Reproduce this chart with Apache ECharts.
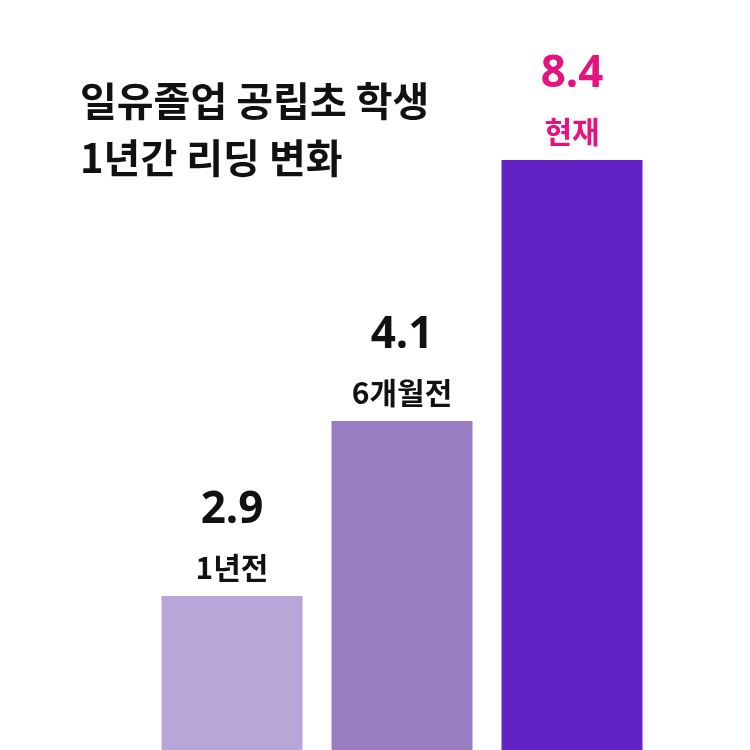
<!DOCTYPE html>
<html>
<head>
<meta charset="utf-8">
<script src="https://cdn.jsdelivr.net/npm/echarts@6/dist/echarts.min.js"></script>
<style>
  html, body { margin: 0; padding: 0; background: #fff; }
  #chart { width: 750px; height: 750px; }
</style>
</head>
<body>
<div id="chart"></div>
<script>
// 막대 이름, 표시 값
var categories = ['1년전', '6개월전', '현재'];
var scores = [2.9, 4.1, 8.4];
// 원본 그림의 막대 높이 (그림이 값에 비례하지 않음)
var barLevels = [1.54, 3.29, 5.90];
var barColors = ['#b9a6d9', '#9b7dc4', '#6322c4'];
var labelColors = ['#111111', '#111111', '#e5137f'];

var myChart = echarts.init(document.getElementById('chart'));

var option = {
    backgroundColor: '#ffffff',
    animation: false,
    title: {
        text: '일유졸업 공립초 학생\n1년간 리딩 변화',
        left: 75,
        top: 67,
        textStyle: {
            fontFamily: 'Noto Sans CJK KR',
            fontWeight: 'bold',
            fontSize: 40,
            lineHeight: 57,
            color: '#111111'
        }
    },
    grid: {
        left: 147,
        right: 93,
        top: 0,
        bottom: 0
    },
    xAxis: {
        type: 'category',
        data: categories,
        show: false
    },
    yAxis: {
        type: 'value',
        min: 0,
        max: 7.5,
        show: false
    },
    series: [{
        type: 'bar',
        barWidth: 141,
        data: barLevels.map(function (h, i) {
            return {
                value: h,
                itemStyle: { color: barColors[i] },
                label: {
                    rich: {
                        v: { fontSize: 44, fontWeight: 'bold', lineHeight: 80, color: labelColors[i], fontFamily: 'Noto Sans' },
                        c: { fontSize: 30, fontWeight: 'bold', lineHeight: 36, color: labelColors[i], fontFamily: 'Noto Sans CJK KR' }
                    }
                }
            };
        }),
        label: {
            show: true,
            position: 'top',
            distance: 10,
            formatter: function (p) {
                return '{v|' + scores[p.dataIndex].toFixed(1) + '}\n{c|' + categories[p.dataIndex] + '}';
            }
        }
    }]
};

myChart.setOption(option);
</script>
</body>
</html>
